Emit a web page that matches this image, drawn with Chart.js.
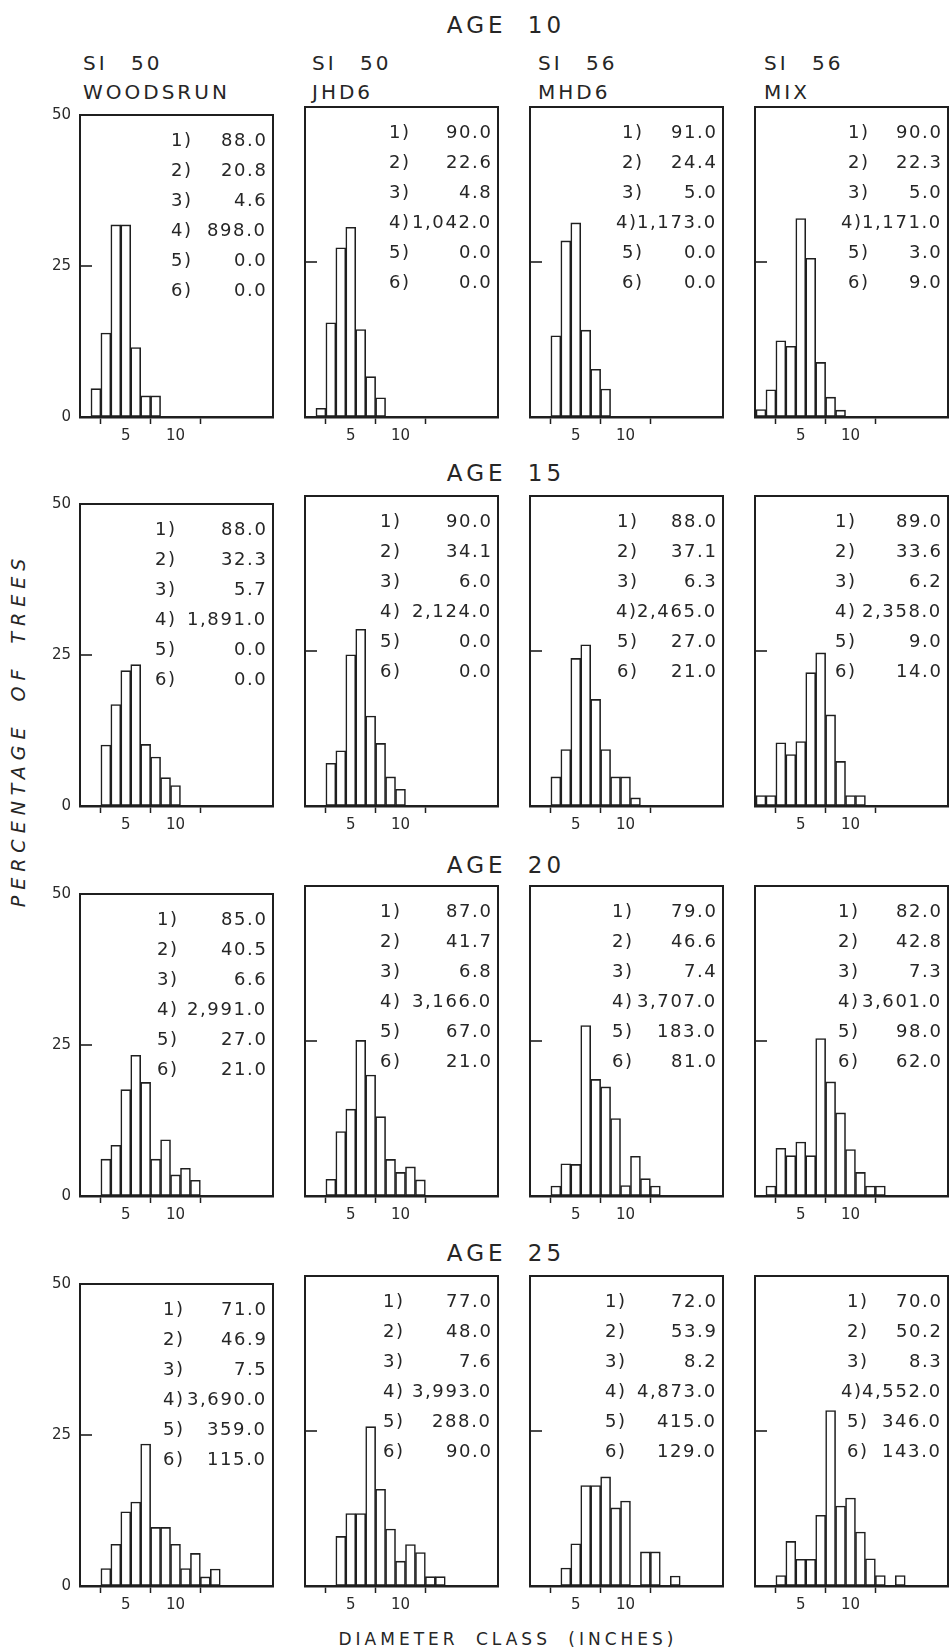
<!DOCTYPE html>
<html>
<head>
<meta charset="utf-8">
<script src="https://cdn.jsdelivr.net/npm/chart.js@4"></script>
<style>
  body { margin: 0; background: #fff; width: 950px; height: 1649px; position: relative; overflow: hidden;
         font-family: "DejaVu Sans", sans-serif; color: #262626; }
  canvas { position: absolute; }
  .t { position: absolute; white-space: nowrap; line-height: 1; }
  .age { font-size: 23px; letter-spacing: 4px; word-spacing: 10px; transform: translate(-50%, -50%); }
  .hdr { font-size: 20px; letter-spacing: 3px; word-spacing: 14px; transform: translateY(-50%); }
  .st { font-size: 18px; letter-spacing: 1.6px; transform: translateY(-50%); }
</style>
</head>
<body>
<script>
// ---- data ----
const ageTitles = ["AGE 10", "AGE 15", "AGE 20", "AGE 25"];
const siteIndex = ["SI 50", "SI 50", "SI 56", "SI 56"];
const sources = ["WOODSRUN", "JHD6", "MHD6", "MIX"];
const xTickValues = [5, 10];
const xTickLabels = ["5", "10"];
const yTickValues = [0, 25, 50];
const statLabels = ["1)", "2)", "3)", "4)", "5)", "6)"];

// first diameter class (inches) of each panel, per age row: WOODSRUN, JHD6, MHD6, MIX
const firstClassAge10 = [2, 2, 3, 1];
const firstClassAge15 = [3, 3, 3, 1];
const firstClassAge20 = [3, 3, 3, 2];
const firstClassAge25 = [3, 4, 4, 3];

// percentage of trees in consecutive 1-inch classes (0 = empty class)
const pctAge10 = [
  [4.7, 13.9, 31.8, 31.8, 11.5, 3.5, 3.5],
  [1.4, 15.2, 27.3, 30.6, 14.1, 6.5, 3.1],
  [13.1, 28.4, 31.3, 14.0, 7.7, 4.5],
  [1.2, 4.4, 12.3, 11.4, 32.0, 25.6, 8.8, 3.2, 1.1]
];
const pctAge15 = [
  [10.1, 16.8, 22.4, 23.4, 10.2, 8.1, 4.7, 3.4],
  [6.9, 8.9, 24.4, 28.5, 14.5, 10.1, 4.7, 2.7],
  [4.7, 9.1, 23.8, 26.0, 17.2, 9.1, 4.7, 4.7, 1.3],
  [1.7, 1.7, 10.2, 8.3, 10.4, 21.5, 24.7, 14.7, 7.2, 1.7, 1.7]
];
const pctAge20 = [
  [6.1, 8.4, 17.6, 23.3, 18.8, 6.1, 9.3, 3.5, 4.6, 2.6],
  [2.7, 10.4, 14.0, 25.1, 19.5, 12.8, 5.9, 3.8, 4.7, 2.6],
  [1.6, 5.2, 5.1, 27.5, 18.8, 17.6, 12.5, 1.7, 6.4, 2.8, 1.6],
  [1.6, 7.7, 6.5, 8.7, 6.5, 25.4, 18.4, 13.4, 7.5, 3.8, 1.6, 1.6]
];
const pctAge25 = [
  [2.9, 6.9, 12.3, 13.9, 23.5, 9.7, 9.7, 6.9, 2.9, 5.4, 1.5, 2.8],
  [8.0, 11.7, 11.7, 25.7, 15.6, 9.2, 4.0, 6.7, 5.4, 1.5, 1.5],
  [2.9, 6.8, 16.2, 16.2, 17.6, 12.6, 13.7, 0, 5.5, 5.5, 0, 1.6],
  [1.7, 7.2, 4.3, 4.3, 11.4, 28.3, 12.9, 14.2, 8.7, 4.4, 1.7, 0, 1.7]
];

// statistics 1)-6) printed in each panel
const statsAge10 = [
  ["88.0", "20.8", "4.6", "898.0", "0.0", "0.0"],
  ["90.0", "22.6", "4.8", "1,042.0", "0.0", "0.0"],
  ["91.0", "24.4", "5.0", "1,173.0", "0.0", "0.0"],
  ["90.0", "22.3", "5.0", "1,171.0", "3.0", "9.0"]
];
const statsAge15 = [
  ["88.0", "32.3", "5.7", "1,891.0", "0.0", "0.0"],
  ["90.0", "34.1", "6.0", "2,124.0", "0.0", "0.0"],
  ["88.0", "37.1", "6.3", "2,465.0", "27.0", "21.0"],
  ["89.0", "33.6", "6.2", "2,358.0", "9.0", "14.0"]
];
const statsAge20 = [
  ["85.0", "40.5", "6.6", "2,991.0", "27.0", "21.0"],
  ["87.0", "41.7", "6.8", "3,166.0", "67.0", "21.0"],
  ["79.0", "46.6", "7.4", "3,707.0", "183.0", "81.0"],
  ["82.0", "42.8", "7.3", "3,601.0", "98.0", "62.0"]
];
const statsAge25 = [
  ["71.0", "46.9", "7.5", "3,690.0", "359.0", "115.0"],
  ["77.0", "48.0", "7.6", "3,993.0", "288.0", "90.0"],
  ["72.0", "53.9", "8.2", "4,873.0", "415.0", "129.0"],
  ["70.0", "50.2", "8.3", "4,552.0", "346.0", "143.0"]
];

// ---- layout ----
const INK = "#1f1f1f";
const COL_X = [80, 305, 530, 755];
const ROW_Y = [107, 496, 886, 1276];
const PANEL_W = 193, PANEL_H = 310;
const PAD_L = 36, PAD_T = 10, PAD_R = 6, PAD_B = 36;
const HDR_X = [83, 312, 538, 764];
const AGE_Y = [25, 473, 865, 1253];
// where the "1)".."6)" column starts, measured from the panel's left edge
const LABEL_DX = [[91, 84, 92, 93], [75, 75, 87, 80], [77, 75, 82, 83], [83, 78, 75, 92]];

const rows = [
  { first: firstClassAge10, pct: pctAge10, stats: statsAge10 },
  { first: firstClassAge15, pct: pctAge15, stats: statsAge15 },
  { first: firstClassAge20, pct: pctAge20, stats: statsAge20 },
  { first: firstClassAge25, pct: pctAge25, stats: statsAge25 }
];

function addText(cls, txt, x, y) {
  const d = document.createElement("div");
  d.className = "t " + cls;
  d.textContent = txt;
  d.style.left = x + "px";
  d.style.top = y + "px";
  document.body.appendChild(d);
  return d;
}

// frame (top/right edges) and the inward 25% tick
const frame = {
  id: "frame",
  afterDatasetsDraw(chart) {
    const { ctx, chartArea: a } = chart;
    const y25 = chart.scales.y.getPixelForValue(25);
    ctx.save();
    ctx.strokeStyle = INK;
    ctx.lineWidth = 2;
    ctx.beginPath();
    ctx.moveTo(a.left, a.top);
    ctx.lineTo(a.right, a.top);
    ctx.lineTo(a.right, a.bottom);
    ctx.stroke();
    ctx.lineWidth = 1.6;
    ctx.beginPath();
    ctx.moveTo(a.left, y25);
    ctx.lineTo(a.left + 12, y25);
    ctx.stroke();
    ctx.restore();
  }
};

function makePanel(r, c) {
  const row = rows[r];
  const pts = [];
  row.pct[c].forEach((v, i) => { if (v > 0) pts.push({ x: row.first[c] + i, y: v }); });

  const cv = document.createElement("canvas");
  cv.width = PANEL_W + PAD_L + PAD_R;
  cv.height = PANEL_H + PAD_T + PAD_B;
  const ox = COL_X[c] - PAD_L, oy = ROW_Y[r] - PAD_T;
  cv.style.left = ox + "px";
  cv.style.top = oy + "px";
  document.body.appendChild(cv);

  const chart = new Chart(cv, {
    type: "bar",
    data: {
      datasets: [{
        data: pts,
        backgroundColor: "#ffffff",
        borderColor: INK,
        borderWidth: 1.6,
        borderSkipped: false,
        barPercentage: 1,
        categoryPercentage: 1
      }]
    },
    options: {
      responsive: false,
      animation: false,
      events: [],
      layout: { padding: { left: 0, top: PAD_T, right: PAD_R, bottom: 0 } },
      plugins: { legend: { display: false }, tooltip: { enabled: false } },
      scales: {
        x: {
          type: "linear", min: 0.4, max: 19.8, offset: false,
          afterBuildTicks: s => { s.ticks = xTickValues.map(v => ({ value: v })); },
          afterFit: s => { s.height = PAD_B; },
          ticks: {
            autoSkip: false, maxRotation: 0, padding: 3, color: "#2a2a2a",
            font: { family: "DejaVu Sans", size: 15 },
            callback: v => xTickLabels[xTickValues.indexOf(v)]
          },
          grid: { drawOnChartArea: false, drawTicks: true, tickLength: 7, tickColor: INK, tickWidth: 1.5 },
          border: { display: true, color: INK, width: 2.5 }
        },
        y: {
          min: 0, max: 50,
          afterBuildTicks: s => { s.ticks = yTickValues.map(v => ({ value: v })); },
          afterFit: s => { s.width = PAD_L; },
          ticks: {
            display: c === 0, padding: 9, color: "#2a2a2a",
            font: { family: "DejaVu Sans", size: 15 }
          },
          grid: { drawOnChartArea: false, drawTicks: false },
          border: { display: true, color: INK, width: 2 }
        }
      }
    },
    plugins: [frame]
  });

  // statistics block inside the panel: labels in a column, values right-aligned
  const a = chart.chartArea;
  const right = ox + a.right - 6;
  row.stats[c].forEach((val, i) => {
    const y = oy + a.top + 25 + i * 30;
    const v = addText("st", val, 0, y);
    v.style.left = (right - v.offsetWidth) + "px";
    const l = addText("st", statLabels[i], 0, y);
    const lx = Math.min(ox + a.left + LABEL_DX[r][c], right - v.offsetWidth - l.offsetWidth + 1);
    l.style.left = lx + "px";
  });
}

// titles
ageTitles.forEach((t, r) => addText("age", t, 506, AGE_Y[r]));
sources.forEach((s, c) => {
  addText("hdr", siteIndex[c], HDR_X[c], 63);
  addText("hdr", s, HDR_X[c], 92);
});

for (let r = 0; r < 4; r++) for (let c = 0; c < 4; c++) makePanel(r, c);

// axis titles
const yt = addText("", "PERCENTAGE OF TREES", 18, 730);
yt.style.cssText += "font-size:19px;font-style:italic;letter-spacing:6px;word-spacing:8px;transform:translate(-50%,-50%) rotate(-90deg);";
const xt = addText("", "DIAMETER CLASS (INCHES)", 508, 1639);
xt.style.cssText += "font-size:17px;letter-spacing:4px;word-spacing:8px;transform:translate(-50%,-50%);";
</script>
</body>
</html>
